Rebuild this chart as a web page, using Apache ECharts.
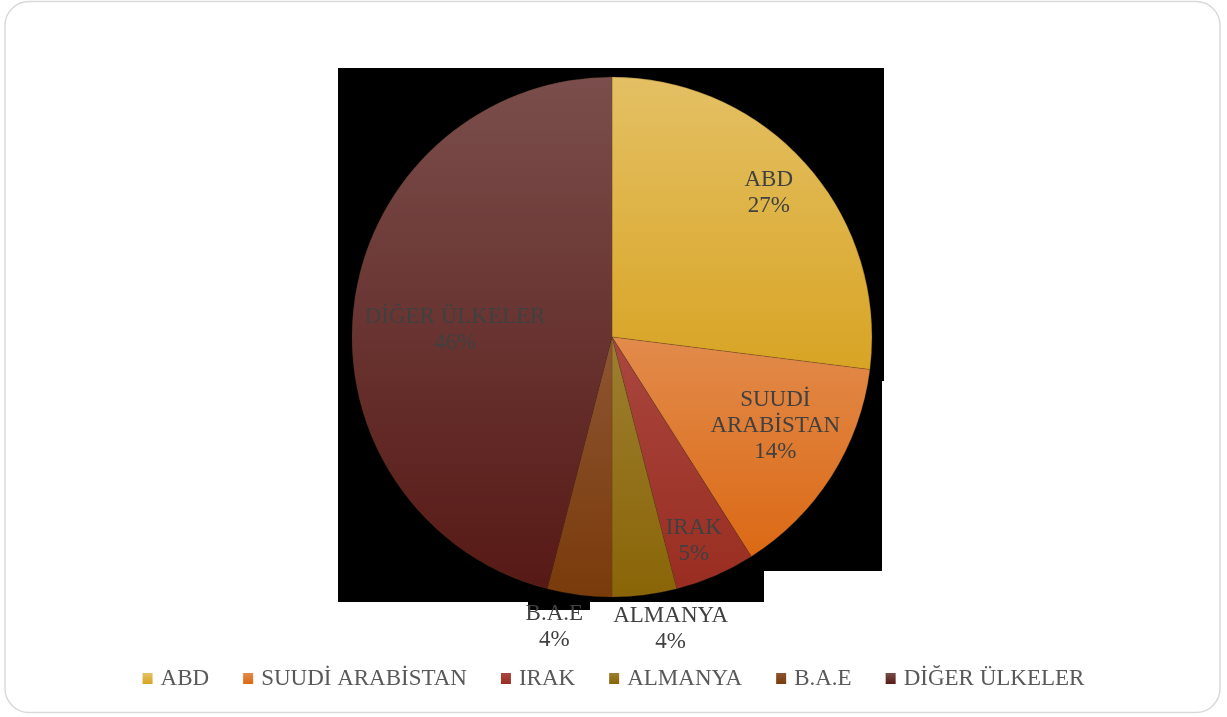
<!DOCTYPE html>
<html>
<head>
<meta charset="utf-8">
<script src="https://cdn.jsdelivr.net/npm/echarts@6/dist/echarts.min.js"></script>
<style>
html,body{margin:0;padding:0;background:#fff;}
#chart{width:1227px;height:717px;}
</style>
</head>
<body>
<div id="chart"></div>
<script>
// Data
const categories = ['ABD', 'SUUDİ ARABİSTAN', 'IRAK', 'ALMANYA', 'B.A.E', 'DİĞER ÜLKELER'];
const shares = [27, 14, 5, 4, 4, 46];

// Styles (gradient top / bottom per slice)
const colorTop = ['#e4c064', '#e28b4c', '#a9473f', '#9d7f31', '#8d5532', '#7a4e4c'];
const colorBottom = ['#d8a424', '#db6914', '#9a2d21', '#8a6507', '#7a3b0b', '#571915'];
// label offsets relative to the default "inside" position
const labelOffsets = [[57, -56], [51, 18], [29, 82], [42, 160], [-41, 158], [-25, 10]];
const wrapNames = {'SUUDİ ARABİSTAN': 'SUUDİ\nARABİSTAN'};

function grad(i) {
  return new echarts.graphic.LinearGradient(0, 0, 0, 1, [
    {offset: 0, color: colorTop[i]},
    {offset: 1, color: colorBottom[i]}
  ]);
}

const chart = echarts.init(document.getElementById('chart'), null, {renderer: 'canvas'});
const serif = '"Liberation Serif", "DejaVu Serif", serif';

const option = {
  backgroundColor: '#ffffff',
  animation: false,
  graphic: [
    {
      type: 'rect', z: 0, silent: true,
      shape: {x: 5, y: 1.5, width: 1215, height: 711, r: 24},
      style: {fill: '#ffffff', stroke: '#d9d9d9', lineWidth: 1.5}
    },
    {
      type: 'polygon', z: 1, silent: true,
      shape: {points: [[338, 68], [884, 68], [884, 381], [882, 381], [882, 571], [764, 571], [764, 602], [590, 602], [590, 610], [528, 610], [528, 602], [338, 602]]},
      style: {fill: '#000000'}
    }
  ],
  legend: {
    left: 'center',
    top: 662,
    itemWidth: 10,
    itemHeight: 11,
    itemGap: 34,
    icon: 'rect',
    data: categories,
    itemStyle: {borderWidth: 0},
    textStyle: {fontFamily: serif, fontSize: 23, color: '#595959', padding: [0, 0, 0, 3]}
  },
  series: [{
    type: 'pie',
    z: 3,
    center: [612, 337],
    radius: [0, 260],
    startAngle: 90,
    clockwise: true,
    avoidLabelOverlap: false,
    itemStyle: {borderColor: 'rgba(90,60,30,0.45)', borderWidth: 0.6},
    label: {
      show: true,
      position: 'inside',
      fontFamily: serif,
      fontSize: 23,
      lineHeight: 26,
      color: '#404040',
      align: 'center',
      formatter: function (p) {
        const n = wrapNames[p.name] || p.name;
        return n + '\n' + Math.round(p.percent) + '%';
      }
    },
    labelLine: {show: false},
    emphasis: {disabled: true},
    data: categories.map(function (c, i) {
      return {
        name: c,
        value: shares[i],
        itemStyle: {color: grad(i)},
        label: {offset: labelOffsets[i]}
      };
    })
  }]
};
chart.setOption(option);
</script>
</body>
</html>
